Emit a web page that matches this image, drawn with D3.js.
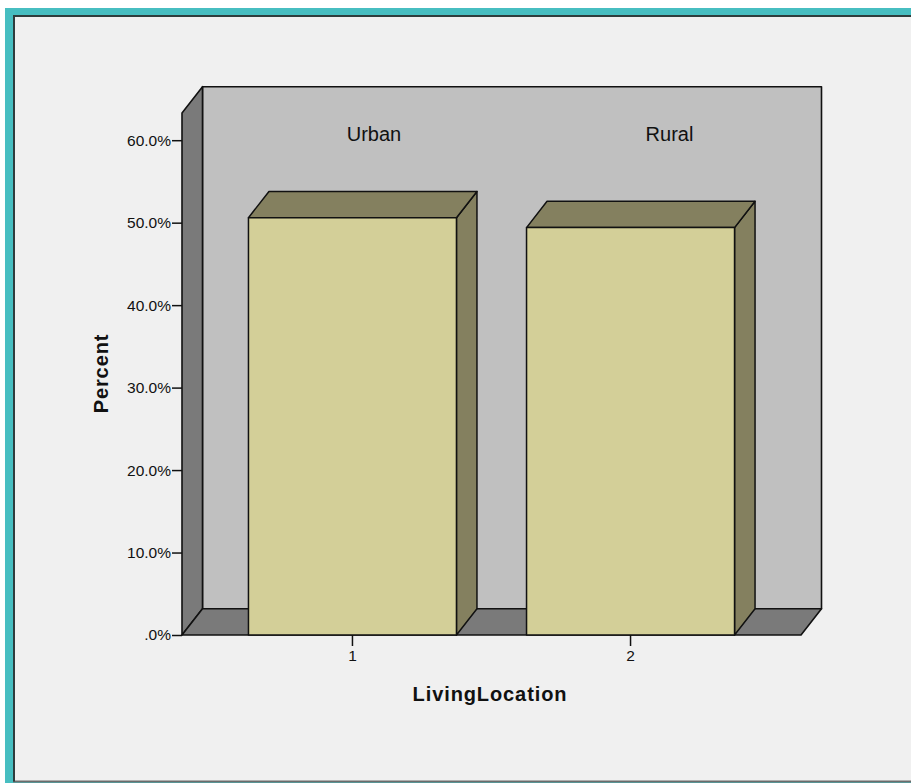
<!DOCTYPE html>
<html>
<head>
<meta charset="utf-8">
<script src="https://cdn.jsdelivr.net/npm/d3@7"></script>
<style>
  html, body { margin: 0; padding: 0; background: #ffffff; }
  svg { display: block; }
  text { font-family: "Liberation Sans", Arial, sans-serif; fill: #111; }
</style>
</head>
<body>
<svg id="chart" width="911" height="783"></svg>
<script>
// Percent of respondents by living location
const categories = ["1", "2"];
const panelLabels = ["Urban", "Rural"];
const percentValues = [50.6, 49.4];
const yTicks = [0, 10, 20, 30, 40, 50, 60];

const W = 911, H = 783;
const svg = d3.select("#chart");

// frame
svg.append("rect").attr("x", 5).attr("y", 8).attr("width", W).attr("height", H)
  .attr("fill", "#47bec1");
svg.append("rect").attr("x", 13).attr("y", 15).attr("width", W - 13).attr("height", H - 15 - 2)
  .attr("fill", "#f0f0f0");
svg.append("path").attr("d", `M13,${H - 1.5} H${W}`)
  .attr("fill", "none").attr("stroke", "#6c6c6c").attr("stroke-width", 2);
svg.append("path").attr("d", `M14,${H - 1.5} V16 H${W}`)
  .attr("fill", "none").attr("stroke", "#2f3d3d").attr("stroke-width", 2);

// plot geometry (front plane) and depth offset
const plotLeft = 182, plotRight = 801, plotBase = 635;
const dx = 20.5, dy = -26.3;
const yMax = 63.3;

const y = d3.scaleLinear().domain([0, 60]).range([plotBase, 140.2]);
const x = d3.scaleBand().domain(categories).range([plotLeft, plotRight])
  .paddingInner(0.252).paddingOuter(0.239);
const plotTop = y(yMax);

const wall = svg.append("g").attr("stroke", "#111").attr("stroke-width", 1.6)
  .attr("stroke-linejoin", "round");
// back wall
wall.append("rect").attr("x", plotLeft + dx).attr("y", plotTop + dy)
  .attr("width", plotRight - plotLeft).attr("height", plotBase - plotTop)
  .attr("fill", "#c0c0c0");
// side wall
wall.append("polygon")
  .attr("points", [[plotLeft, plotBase], [plotLeft, plotTop], [plotLeft + dx, plotTop + dy], [plotLeft + dx, plotBase + dy]].join(" "))
  .attr("fill", "#7a7a7a");
// floor
wall.append("polygon")
  .attr("points", [[plotLeft, plotBase], [plotLeft + dx, plotBase + dy], [plotRight + dx, plotBase + dy], [plotRight, plotBase]].join(" "))
  .attr("fill", "#7a7a7a");

// panel labels on back wall
const labelX = d3.scalePoint().domain(panelLabels).range([374, 669.5]);
svg.append("g").selectAll("text").data(panelLabels).join("text")
  .attr("x", d => labelX(d)).attr("y", 141)
  .attr("text-anchor", "middle").attr("font-size", 20)
  .text(d => d);

// 3D bars
const bars = svg.append("g").attr("stroke", "#111").attr("stroke-width", 1.5)
  .attr("stroke-linejoin", "round")
  .selectAll("g").data(categories.map((c, i) => ({ c, v: percentValues[i] }))).join("g");

bars.append("polygon")
  .attr("points", d => {
    const x1 = x(d.c) + x.bandwidth(), yv = y(d.v);
    return [[x1, yv], [x1 + dx, yv + dy], [x1 + dx, plotBase + dy], [x1, plotBase]].join(" ");
  })
  .attr("fill", "#84805f");
bars.append("polygon")
  .attr("points", d => {
    const x0 = x(d.c), x1 = x0 + x.bandwidth(), yv = y(d.v);
    return [[x0, yv], [x0 + dx, yv + dy], [x1 + dx, yv + dy], [x1, yv]].join(" ");
  })
  .attr("fill", "#84805f");
bars.append("rect")
  .attr("x", d => x(d.c)).attr("y", d => y(d.v))
  .attr("width", x.bandwidth()).attr("height", d => plotBase - y(d.v))
  .attr("fill", "#d3cf98");

// y axis
const yAxis = svg.append("g").attr("transform", `translate(${plotLeft},0)`)
  .call(d3.axisLeft(y).tickValues(yTicks).tickSize(10).tickPadding(1)
    .tickFormat(d => d === 0 ? ".0%" : d3.format(".1f")(d) + "%"));
yAxis.select(".domain").remove();
yAxis.selectAll("line").attr("stroke", "#111").attr("stroke-width", 1.5);
yAxis.selectAll("text").attr("font-size", 15.5).attr("font-family", "Liberation Sans, Arial, sans-serif")
  .attr("fill", "#1a1a1a");

// x axis
const xAxis = svg.append("g").attr("transform", `translate(0,${plotBase})`)
  .call(d3.axisBottom(x).tickSize(11).tickPadding(4));
xAxis.select(".domain").remove();
xAxis.selectAll("line").attr("stroke", "#111").attr("stroke-width", 1.5);
xAxis.selectAll("text").attr("font-size", 15.5).attr("font-family", "Liberation Sans, Arial, sans-serif")
  .attr("fill", "#1a1a1a");

// axis titles
svg.append("text").attr("transform", "translate(108,373.5) rotate(-90)")
  .attr("text-anchor", "middle").attr("font-size", 20).attr("font-weight", "bold")
  .attr("letter-spacing", 0.9).text("Percent");
svg.append("text").attr("x", 490).attr("y", 701)
  .attr("text-anchor", "middle").attr("font-size", 20).attr("font-weight", "bold")
  .attr("letter-spacing", 0.9).text("LivingLocation");
</script>
</body>
</html>
